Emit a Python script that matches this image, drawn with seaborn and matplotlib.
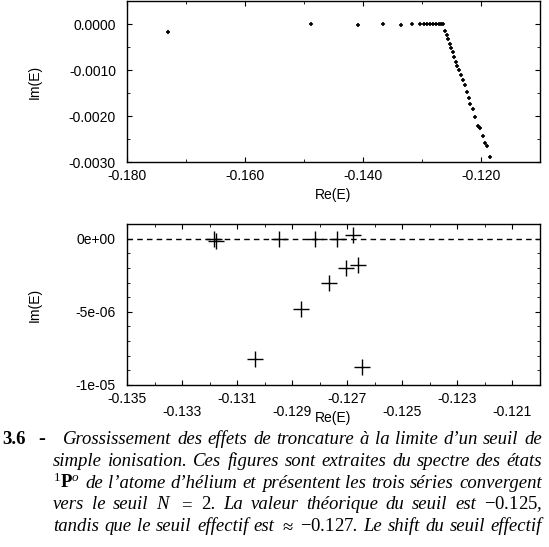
import matplotlib
matplotlib.use('Agg')
import matplotlib.pyplot as plt
from matplotlib.ticker import FixedLocator, MultipleLocator, FuncFormatter
from matplotlib.transforms import IdentityTransform
import seaborn as sns

# complex energies, full view (top panel)
re_full = [-0.17312, -0.14883, -0.14078, -0.13661, -0.13356, -0.13172, -0.13039,
           -0.12972, -0.12911, -0.12856, -0.12806, -0.12761, -0.12717, -0.12678,
           -0.12650, -0.12611, -0.12583, -0.12556, -0.12528, -0.12511, -0.12483,
           -0.12456, -0.12428, -0.12400, -0.12372, -0.12344, -0.12311, -0.12278,
           -0.12244, -0.12211, -0.12178, -0.12139, -0.12094, -0.12050, -0.12022,
           -0.11972, -0.11928, -0.11900, -0.11850]
im_full = [-0.000167, -0.000005, -0.000030, 0.0, -0.000012, 0.0, 0.0,
           0.0, 0.0, 0.0, 0.0, 0.0, 0.0, 0.0,
           -0.000010, -0.000146, -0.000234, -0.000329, -0.000439, -0.000527, -0.000614,
           -0.000710, -0.000819, -0.000907, -0.001002, -0.001112, -0.001222, -0.001331,
           -0.001478, -0.001609, -0.001734, -0.001858, -0.002026, -0.002209, -0.002268,
           -0.002429, -0.002590, -0.002663, -0.002890]

# zoom on the threshold (bottom panel)
re_zoom = [-0.13183, -0.13177, -0.12948, -0.12816, -0.12736, -0.12679,
           -0.12704, -0.12660, -0.12768, -0.12869, -0.13034, -0.12647]
im_zoom = [0.0, -0.15e-6, 0.0, 0.0, 0.0, 0.23e-6,
           -1.98e-6, -1.80e-6, -3.05e-6, -4.82e-6, -8.25e-6, -8.80e-6]

top_xticks = [-0.180, -0.160, -0.140, -0.120]
top_yticks = [-0.0030, -0.0020, -0.0010, 0.0]
zoom_xticks = [-0.135, -0.133, -0.131, -0.129, -0.127, -0.125, -0.123, -0.121]
zoom_yticks = [-1e-5, -5e-6, 0.0]

caption_lines = [
    "Grossissement des effets de troncature à la limite d’un seuil de",
    "simple ionisation. Ces figures sont extraites du spectre des états",
    "$^{1}\\mathbf{P}^{o}$ de l’atome d’hélium et présentent les trois séries convergent",
    "vers le seuil $N$ $=$ $2$. La valeur théorique du seuil est $-0.125$,",
    "tandis que le seuil effectif est $\\approx$ $-0.127$. Le shift du seuil effectif",
]

sns.set_style('ticks')
plt.rcParams['font.family'] = ['Liberation Sans', 'DejaVu Sans']
plt.rcParams.update({
    'font.size': 10,
    'text.color': 'black', 'axes.labelcolor': 'black', 'axes.edgecolor': 'black',
    'xtick.color': 'black', 'ytick.color': 'black',
    'xtick.direction': 'in', 'ytick.direction': 'in',
    'xtick.top': True, 'ytick.right': True,
    'xtick.major.size': 3.5, 'ytick.major.size': 3.5,
    'xtick.minor.size': 2, 'ytick.minor.size': 2,
    'xtick.major.width': 0.8, 'ytick.major.width': 0.8,
    'axes.linewidth': 1.0,
    'mathtext.fontset': 'custom',
    'mathtext.rm': 'Liberation Serif',
    'mathtext.it': 'Liberation Serif:italic',
    'mathtext.bf': 'Liberation Serif:bold',
})

W, H = 549, 547
fig = plt.figure(figsize=(W / 100, H / 100), dpi=100)
ax1 = fig.add_axes([127 / W, 1 - 162 / H, 413 / W, 161 / H])
ax2 = fig.add_axes([127 / W, 1 - 385 / H, 413 / W, 161 / H])


def fmt(pattern):
    return FuncFormatter(lambda v, p: pattern % (round(v, 9) + 0.0))


# top panel
sns.scatterplot(x=re_full, y=im_full, marker='+', color='k', s=7,
                linewidth=1.2, ax=ax1)
ax1.set_xlim(-0.180, -0.110)
ax1.set_ylim(-0.0030, 0.0005)
ax1.xaxis.set_major_locator(FixedLocator(top_xticks))
ax1.xaxis.set_minor_locator(MultipleLocator(0.010))
ax1.yaxis.set_major_locator(FixedLocator(top_yticks))
ax1.yaxis.set_minor_locator(MultipleLocator(0.0005))
ax1.xaxis.set_major_formatter(fmt('%.3f'))
ax1.yaxis.set_major_formatter(fmt('%.4f'))

# bottom panel
ax2.axhline(0, color='k', lw=1, ls=(0, (4, 3)))
sns.scatterplot(x=re_zoom, y=im_zoom, marker='+', color='k', s=120,
                linewidth=1.0, ax=ax2)
ax2.set_xlim(-0.135, -0.120)
ax2.set_ylim(-1e-5, 1e-6)
ax2.xaxis.set_major_locator(FixedLocator(zoom_xticks))
ax2.xaxis.set_minor_locator(MultipleLocator(0.001))
ax2.yaxis.set_major_locator(FixedLocator(zoom_yticks))
ax2.yaxis.set_minor_locator(MultipleLocator(1e-6))
ax2.xaxis.set_major_formatter(fmt('%.3f'))
ax2.yaxis.set_major_formatter(FuncFormatter(lambda v, p: '%.0e' % (round(v, 9) + 0.0)))

for ax in (ax1, ax2):
    ax.tick_params(axis='x', which='major', pad=5)
    ax.tick_params(axis='y', which='major', pad=8)
    ax.set_xlabel('Re(E)')
    ax.set_ylabel('Im(E)')
    ax.xaxis.set_label_coords(0.5, -0.205)
    ax.xaxis.label.set_va('center')
    ax.yaxis.set_label_coords(-0.223, 0.5)
    ax.yaxis.label.set_va('center')

# staggered tick labels on the zoom panel
for i, t in enumerate(ax2.xaxis.get_major_ticks()):
    if i % 2:
        t.set_pad(14.5)

# caption, justified line by line
fig.canvas.draw()
renderer = fig.canvas.get_renderer()
ident = IdentityTransform()
cap_font = dict(family='Liberation Serif', style='italic', size=13.5)
fig.text(2, H - 444, '3.6', transform=ident, family='Liberation Serif',
         weight='bold', size=13.5, va='baseline')
fig.text(38, H - 444, '-', transform=ident, family='Liberation Serif',
         weight='bold', size=15, va='baseline')
right = 542
for i, line in enumerate(caption_lines):
    left = 63 if i == 0 else 53
    base = H - (444 + 21.8 * i)
    words = line.split(' ')
    texts = [fig.text(0, base, w, transform=ident, va='baseline', **cap_font)
             for w in words]
    widths = [t.get_window_extent(renderer).width for t in texts]
    gap = (right - left - sum(widths)) / (len(words) - 1)
    x = left
    for t, w in zip(texts, widths):
        t.set_x(x)
        x += w + gap

fig.savefig('out.png', dpi=100)
